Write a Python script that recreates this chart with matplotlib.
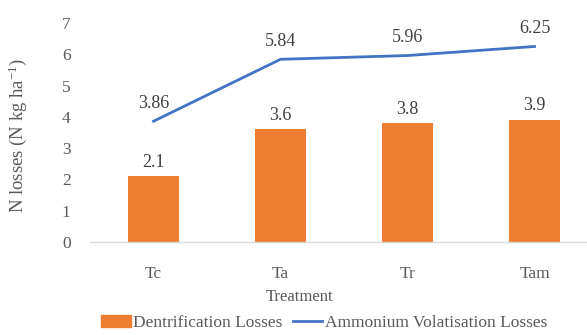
import numpy as np
import matplotlib.pyplot as plt
from matplotlib.patches import Patch
from matplotlib.lines import Line2D

plt.rcParams['font.family'] = ['Liberation Serif', 'DejaVu Serif']
plt.rcParams['mathtext.fontset'] = 'custom'
plt.rcParams['mathtext.rm'] = 'Liberation Serif'
plt.rcParams['mathtext.it'] = 'Liberation Serif'

treatments = ["Tc", "Ta", "Tr", "Tam"]
denitrification = [2.1, 3.6, 3.8, 3.9]
volatilisation = [3.86, 5.84, 5.96, 6.25]

bar_color = "#ED7D31"
line_color = "#4472C4"
text_color = "#595959"

W, H = 587, 335
fig = plt.figure(figsize=(W / 100, H / 100), dpi=100)
ax = fig.add_axes([90 / W, 1 - 242 / H, (598 - 90) / W, (242 - 23) / H])

x = np.arange(len(treatments))
ax.bar(x, denitrification, width=0.4, color=bar_color, zorder=2)
ax.plot(x, volatilisation, color=line_color, lw=2, zorder=3)

for xi, v in zip(x, denitrification):
    ax.annotate(f"{v:g}", (xi, v), xytext=(0, 4), textcoords="offset points",
                ha="center", va="bottom", fontsize=13, color="#404040")
for xi, v in zip(x, volatilisation):
    ax.annotate(f"{v:g}", (xi, v), xytext=(0, 7), textcoords="offset points",
                ha="center", va="bottom", fontsize=13, color="#404040")

ax.set_xlim(-0.5, 3.5)
ax.set_ylim(0, 7)
ax.set_yticks(range(0, 8))
ax.set_xticks(x)
ax.set_xticklabels(treatments)
ax.tick_params(axis="x", length=0, pad=17, labelsize=12.5, labelcolor=text_color)
ax.tick_params(axis="y", length=0, pad=14, labelsize=12.5, labelcolor=text_color)
for s in ["top", "right", "left"]:
    ax.spines[s].set_visible(False)
ax.spines["bottom"].set_color("#D9D9D9")
ax.spines["bottom"].set_linewidth(1)

fig.text(18 / W, 1 - 135 / H, r"N losses (N kg ha$^{-1}$)", rotation=90,
         ha="center", va="center", fontsize=13.5, color=text_color)
fig.text(300 / W, 1 - 297 / H, "Treatment", ha="center", va="center",
         fontsize=12, color=text_color)

handles = [Patch(color=bar_color), Line2D([], [], color=line_color, lw=2)]
labels = ["Dentrification Losses", "Ammonium Volatisation Losses"]
fig.legend(handles, labels, loc="center left", bbox_to_anchor=(101 / W, 1 - 323 / H),
           ncol=2, frameon=False, fontsize=12.5, handlelength=1.7,
           handletextpad=0.15, columnspacing=0.6, labelcolor=text_color,
           borderaxespad=0, borderpad=0)

fig.savefig("out.png", dpi=100)
